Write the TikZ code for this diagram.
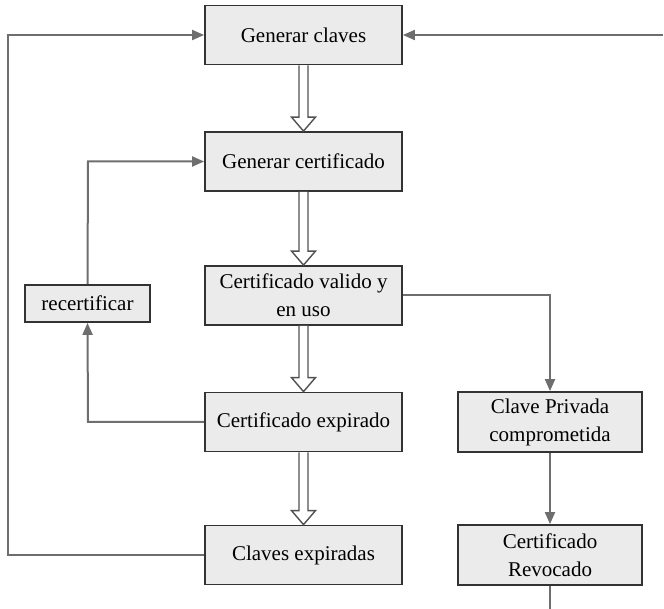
\documentclass[tikz,border=0pt]{standalone}
\usepackage{fontspec}
\setmainfont{Liberation Serif}
\usetikzlibrary{arrows.meta,calc}
\definecolor{boxfill}{HTML}{EBEBEB}
\definecolor{boxline}{HTML}{333333}
\definecolor{conn}{HTML}{6E6E6E}
\tikzset{
  stepbox/.style={draw=boxline, fill=boxfill, line width=1.8pt, minimum width=197pt, minimum height=59pt, align=center, inner sep=2pt, font=\fontsize{21}{28}\selectfont, text=black},
  sidebox/.style={stepbox, minimum width=184pt, minimum height=60pt},
  smallbox/.style={stepbox, minimum width=125pt, minimum height=37pt},
  link/.style={draw=conn, line width=2pt, -{Triangle[length=12pt,width=10pt]}},
  plainlink/.style={draw=conn, line width=2pt},
  hollow/.style={draw=boxline!85, fill=white, line width=1.4pt, line join=miter}
}
\newcommand\hollowarrow[2]{%
  \path[hollow] let \p1=(#1.south), \p2=(#2.north) in
    (\x1-4.5pt,\y1) -- (\x1-4.5pt,\y2+14pt) -- (\x1-12pt,\y2+14pt) -- (\x1,\y2) --
    (\x1+12pt,\y2+14pt) -- (\x1+4.5pt,\y2+14pt) -- (\x1+4.5pt,\y1);}
\begin{document}
\begin{tikzpicture}[x=1pt,y=-1pt]
\useasboundingbox (0,0) rectangle (664,609);
\node[stepbox] (g1) at (303.5,35) {Generar claves};
\node[stepbox] (g2) at (303.5,161.5) {Generar certificado};
\node[stepbox] (g3) at (303.5,295.5) {Certificado valido y\\en uso};
\node[stepbox] (g4) at (303.5,422) {Certificado expirado};
\node[stepbox] (g5) at (303.5,555) {Claves expiradas};
\node[smallbox] (rec) at (87.5,303.5) {recertificar};
\node[sidebox] (cp) at (550,422) {Clave Privada\\comprometida};
\node[sidebox] (cr) at (550,555) {Certificado\\Revocado};
\coordinate (rt) at (663,35);
\coordinate (bt) at (550,609);
\coordinate (lb) at (8,555);
\coordinate (lt) at (8,35);
\coordinate (rb) at (88,422);
\coordinate (rtop) at (88,161.5);
\coordinate (cpt) at (550,295.5);

\hollowarrow{g1}{g2}
\hollowarrow{g2}{g3}
\hollowarrow{g3}{g4}
\hollowarrow{g4}{g5}

\draw[link] (rt) -- (g1.east);
\draw[link] (g5.west) -- (lb) -- (lt) -- (g1.west);
\draw[link] (g4.west) -- (rb) -- (rec.south);
\draw[link] (rec.north) -- (rtop) -- (g2.west);
\draw[link] (g3.east) -- (cpt) -- (cp.north);
\draw[link] (cp.south) -- (cr.north);
\draw[plainlink] (cr.south) -- (bt);
\end{tikzpicture}
\end{document}
